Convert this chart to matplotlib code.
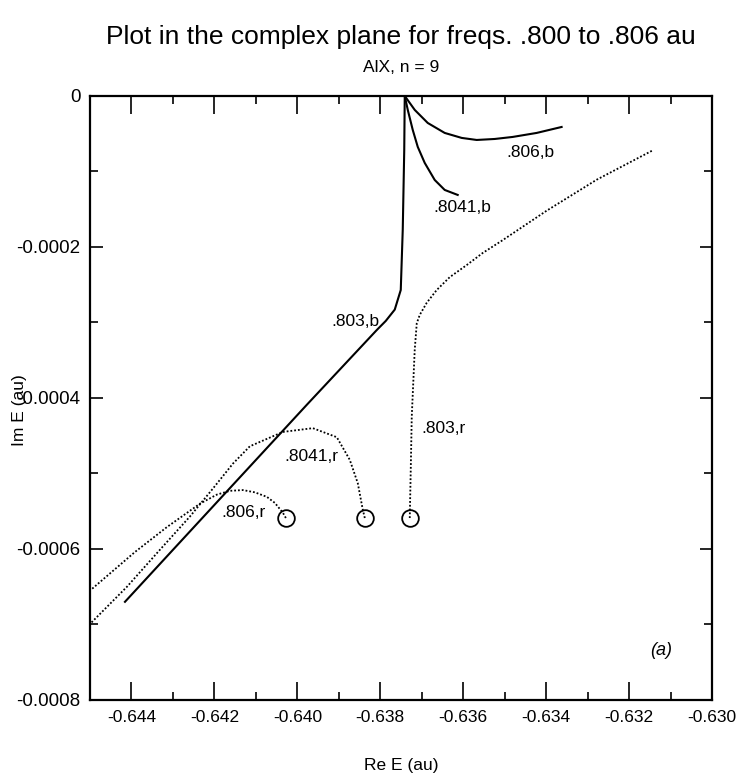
import matplotlib
matplotlib.use('Agg')
import matplotlib.pyplot as plt
from matplotlib.ticker import MultipleLocator, FormatStrFormatter

plt.rcParams['font.family'] = ['Liberation Sans', 'DejaVu Sans']

# сплошные кривые (b)
re_803b = [-0.637410, -0.637422, -0.637458, -0.637506, -0.637651, -0.637868, -0.638084, -0.639771, -0.644157]
im_803b = [0, -0.0000715, -0.000177, -0.000257, -0.000283, -0.000298, -0.000310, -0.000409, -0.000670]

re_806b = [-0.637410, -0.637169, -0.636855, -0.636446, -0.636036, -0.635675, -0.635241,
           -0.634807, -0.634229, -0.633627]
im_806b = [0, -0.0000185, -0.0000358, -0.0000490, -0.0000556, -0.0000583, -0.0000570,
           -0.0000543, -0.0000490, -0.0000411]

re_8041b = [-0.637410, -0.637337, -0.637217, -0.637096, -0.636928, -0.636687, -0.636446, -0.636133]
im_8041b = [0, -0.0000185, -0.0000450, -0.0000675, -0.0000887, -0.0001113, -0.0001245, -0.0001311]

# пунктирные кривые (r), первая точка - кружок
re_803r = [-0.637289, -0.637265, -0.637241, -0.637169, -0.637120, -0.637048, -0.636880,
           -0.636639, -0.636325, -0.635916, -0.635530, -0.635048, -0.633988, -0.632783, -0.631410]
im_803r = [-0.000559, -0.000495, -0.000425, -0.000336, -0.000301, -0.000290, -0.000274,
           -0.000257, -0.000240, -0.000224, -0.000208, -0.000191, -0.000152, -0.000111, -0.0000715]

re_8041r = [-0.638373, -0.638422, -0.638542, -0.638735, -0.639048, -0.639627, -0.640349,
            -0.641145, -0.641554, -0.642036, -0.642590, -0.643313, -0.644108, -0.644976]
im_8041r = [-0.000559, -0.000548, -0.000513, -0.000482, -0.000452, -0.000440, -0.000445,
            -0.000464, -0.000487, -0.000520, -0.000557, -0.000601, -0.000650, -0.000698]

re_806r = [-0.640277, -0.640349, -0.640542, -0.640735, -0.641024, -0.641313, -0.641627,
           -0.641940, -0.642349, -0.643145, -0.643916, -0.644976]
im_806r = [-0.000559, -0.000552, -0.000539, -0.000531, -0.000525, -0.000522, -0.000523,
           -0.000528, -0.000540, -0.000571, -0.000604, -0.000654]

# подписи кривых
labels = ['.806,b', '.8041,b', '.803,b', '.803,r', '.8041,r', '.806,r']
label_re = [-0.634373, -0.636012, -0.638590, -0.636470, -0.639651, -0.641289]
label_im = [-0.0000755, -0.000148, -0.000299, -0.000441, -0.000478, -0.000552]

fig = plt.figure(figsize=(7.36, 7.8), dpi=100)
ax = fig.add_axes([0.1223, 0.1026, 0.8451, 0.7744])

for re, im in [(re_803b, im_803b), (re_806b, im_806b), (re_8041b, im_8041b)]:
    ax.plot(re, im, color='black', lw=1.5)

for re, im in [(re_803r, im_803r), (re_8041r, im_8041r), (re_806r, im_806r)]:
    ax.plot(re, im, color='black', lw=1.3, linestyle=(0, (1, 1.1)))
    ax.plot(re[0], im[0], marker='o', ms=12, mfc='none', mec='black', mew=1.3)

for t, x, y in zip(labels, label_re, label_im):
    ax.text(x, y, t, ha='center', va='center', fontsize=12.5)

ax.text(-0.631217, -0.000735, '(a)', ha='center', va='center', fontsize=13, style='italic')

ax.set_xlim(-0.645, -0.630)
ax.set_ylim(-0.0008, 0)
ax.xaxis.set_major_locator(MultipleLocator(0.002))
ax.xaxis.set_minor_locator(MultipleLocator(0.001))
ax.yaxis.set_major_locator(MultipleLocator(0.0002))
ax.yaxis.set_minor_locator(MultipleLocator(0.0001))
ax.xaxis.set_major_formatter(FormatStrFormatter('%.3f'))
ax.yaxis.set_major_formatter(plt.FuncFormatter(lambda v, p: '0' if abs(v) < 1e-12 else '%.4f' % v))
ax.tick_params(which='both', direction='in', top=True, right=True, width=1.2)
ax.tick_params(axis='x', which='major', length=13, pad=7, labelsize=12.5)
ax.tick_params(axis='y', which='major', length=9, pad=7, labelsize=13.5)
ax.tick_params(which='minor', length=5.5)
for s in ax.spines.values():
    s.set_linewidth(1.6)

fig.text(0.545, 0.953, 'Plot in the complex plane for freqs. .800 to .806 au',
         ha='center', va='center', fontsize=19)
fig.text(0.545, 0.913, 'AlX, n = 9', ha='center', va='center', fontsize=12.5)
fig.text(0.545, 0.018, 'Re E (au)', ha='center', va='center', fontsize=12.5)
fig.text(0.027, 0.474, 'Im E (au)', ha='center', va='center', fontsize=12.5, rotation=90)

fig.savefig('out.png', dpi=100)
